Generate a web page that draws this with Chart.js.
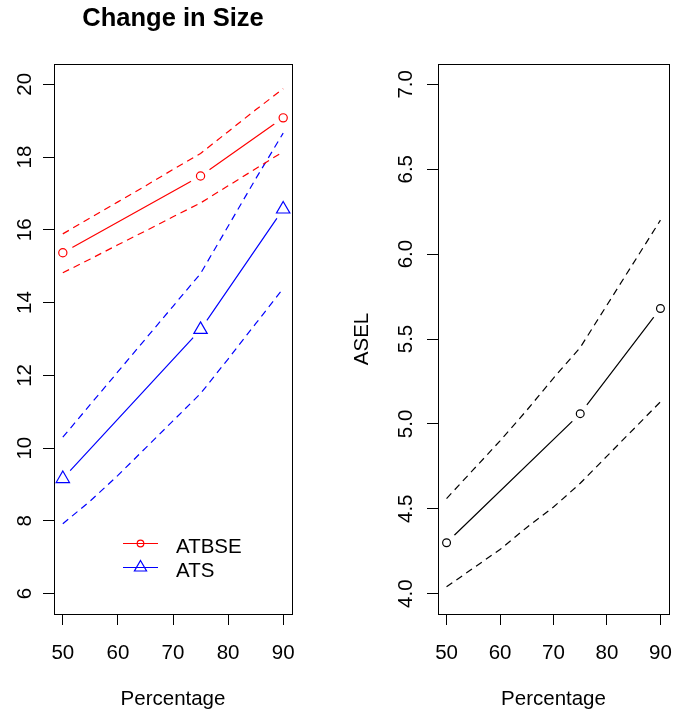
<!DOCTYPE html>
<html>
<head>
<meta charset="utf-8">
<script src="https://cdn.jsdelivr.net/npm/chart.js@4.4.1/dist/chart.umd.min.js"></script>
<style>
  body { margin: 0; background: #fff; }
  #wrap { position: relative; width: 680px; height: 715px; overflow: hidden; background: #fff; }
  canvas { position: absolute; top: 0; }
</style>
</head>
<body>
<div id="wrap">
  <canvas id="sizeChart" width="340" height="715" style="left:0"></canvas>
  <canvas id="aselChart" width="340" height="715" style="left:340px"></canvas>
</div>
<script>
// x positions
const xMean = [50, 75, 90];
const xBand = [50, 55, 60, 65, 70, 75, 80, 85, 90];
const xTicks = [50, 60, 70, 80, 90];
const sizeTicks = [6, 8, 10, 12, 14, 16, 18, 20];
const aselTicks = [4.0, 4.5, 5.0, 5.5, 6.0, 6.5, 7.0];

// left panel: change in size
const atbseMean = [15.37, 17.48, 19.08];
const atbseUpper = [15.89, 16.33, 16.77, 17.21, 17.66, 18.10, 18.70, 19.30, 19.88];
const atbseLower = [14.82, 15.20, 15.59, 15.97, 16.36, 16.74, 17.21, 17.68, 18.15];
const atsMean = [9.16, 13.26, 16.57];
const atsUpper = [10.30, 11.20, 12.10, 13.00, 13.90, 14.80, 16.10, 17.40, 18.66];
const atsLower = [7.92, 8.55, 9.25, 10.00, 10.75, 11.50, 12.45, 13.42, 14.39];

// right panel: ASEL
const aselMean = [4.30, 5.06, 5.68];
const aselUpper = [4.56, 4.73, 4.90, 5.08, 5.27, 5.45, 5.70, 5.95, 6.20];
const aselLower = [4.04, 4.15, 4.26, 4.39, 4.51, 4.65, 4.81, 4.97, 5.13];

const FONT = '"Liberation Sans", Arial, Helvetica, sans-serif';
const DASH = [7, 5];
const LW = 1.2;

function pts(xs, ys) {
    return xs.map((x, i) => ({ x: x, y: ys[i] }));
}

// solid line + white gap around points + hollow markers, like R type="b"
function series(label, color, style, radius, ys) {
    return [
        { data: pts(xMean, ys), borderColor: color, borderWidth: LW, pointRadius: 0, order: 3 },
        { data: pts(xMean, ys), showLine: false, pointRadius: 11, pointBorderWidth: 0,
          pointBackgroundColor: '#fff', order: 2 },
        { label: label, inLegend: true, data: pts(xMean, ys), showLine: false, pointStyle: style,
          pointRadius: radius, pointBorderWidth: LW, pointBorderColor: color,
          pointBackgroundColor: 'rgba(0,0,0,0)', borderColor: color, order: 1 }
    ];
}

function band(color, ys) {
    return { data: pts(xBand, ys), borderColor: color, borderWidth: LW, borderDash: DASH,
             pointRadius: 0, order: 3 };
}

// box around the plot region and an R-style legend without frame
const rFrame = {
    id: 'rFrame',
    afterDraw(chart) {
        const ctx = chart.ctx;
        const a = chart.chartArea;
        ctx.save();
        ctx.strokeStyle = '#000';
        ctx.lineWidth = 1;
        ctx.strokeRect(Math.round(a.left) + 0.5, Math.round(a.top) + 0.5,
                       Math.round(a.right - a.left), Math.round(a.bottom - a.top));
        const lg = chart.options.plugins.rFrame;
        if (lg && lg.legend) {
            let y = lg.y;
            ctx.font = '20.5px ' + FONT;
            ctx.textBaseline = 'middle';
            ctx.lineWidth = LW;
            chart.data.datasets.filter(d => d.inLegend).forEach(d => {
                ctx.strokeStyle = d.pointBorderColor;
                ctx.beginPath();
                ctx.moveTo(lg.x, y + 0.5);
                ctx.lineTo(lg.x + 35, y + 0.5);
                ctx.stroke();
                ctx.fillStyle = 'rgba(0,0,0,0)';
                Chart.helpers.drawPoint(ctx, {
                    pointStyle: d.pointStyle,
                    radius: d.pointStyle === 'triangle' ? 7 : 3.3,
                    borderWidth: LW, rotation: 0
                }, lg.x + 17.5, y + 0.5);
                ctx.fillStyle = '#000';
                ctx.fillText(d.label, lg.x + 53, y + 4);
                y += 24;
            });
        }
        ctx.restore();
    }
};

function makeChart(id, datasets, yMin, yMax, yTicks, yFmt, opts) {
    return new Chart(document.getElementById(id), {
        type: 'line',
        data: { datasets: datasets },
        plugins: [rFrame],
        options: {
            responsive: false,
            animation: false,
            events: [],
            elements: { line: { tension: 0 } },
            layout: { padding: opts.padding },
            plugins: {
                legend: { display: false },
                tooltip: { enabled: false },
                title: opts.title,
                rFrame: opts.legend
            },
            scales: {
                x: {
                    type: 'linear', min: 48.4, max: 91.6,
                    afterBuildTicks: s => { s.ticks = xTicks.map(v => ({ value: v })); },
                    afterFit: s => { s.height = 101; s.paddingLeft = 0; s.paddingRight = 0; },
                    grid: { drawOnChartArea: false, tickLength: 11, color: '#000' },
                    border: { display: false },
                    ticks: { color: '#000', padding: 16, font: { family: FONT, size: 20.5 } },
                    title: { display: true, text: 'Percentage', color: '#000',
                             padding: { bottom: 3 }, font: { family: FONT, size: 20.5 } }
                },
                y: {
                    type: 'linear', min: yMin, max: yMax,
                    afterBuildTicks: s => { s.ticks = yTicks.map(v => ({ value: v })); },
                    afterFit: s => { s.width = opts.yWidth; s.paddingTop = 0; s.paddingBottom = 0; },
                    grid: { drawOnChartArea: false, tickLength: 11, color: '#000' },
                    border: { display: false },
                    ticks: { color: '#000', padding: 6.5, minRotation: 90, maxRotation: 90,
                             crossAlign: 'center', callback: yFmt,
                             font: { family: FONT, size: 20.5 } },
                    title: opts.yTitle
                }
            }
        }
    });
}

makeChart('sizeChart',
    [].concat(
        [band('#FF0000', atbseUpper), band('#FF0000', atbseLower),
         band('#0000FF', atsUpper), band('#0000FF', atsLower)],
        series('ATBSE', '#FF0000', 'circle', 4.1, atbseMean),
        series('ATS', '#0000FF', 'triangle', 7.7, atsMean)
    ),
    5.44, 20.56, sizeTicks, v => String(v),
    {
        padding: { left: 0, right: 48, top: 0, bottom: 0 },
        yWidth: 54,
        title: { display: true, text: 'Change in Size', color: '#000', fullSize: false,
                 padding: { top: 4, bottom: 29.4 },
                 font: { family: FONT, size: 25.5, weight: 'bold' } },
        legend: { legend: true, x: 123, y: 543 },
        yTitle: { display: false }
    });

makeChart('aselChart',
    [].concat(
        [band('#000000', aselUpper), band('#000000', aselLower)],
        series('ASEL', '#000000', 'circle', 3.9, aselMean)
    ),
    3.88, 7.12, aselTicks, v => v.toFixed(1),
    {
        padding: { left: 0, right: 3, top: 64, bottom: 0 },
        yWidth: 98,
        title: { display: false },
        legend: { legend: false },
        yTitle: { display: true, text: 'ASEL', color: '#000', padding: { top: 10 },
                  font: { family: FONT, size: 20.5 } }
    });
</script>
</body>
</html>
